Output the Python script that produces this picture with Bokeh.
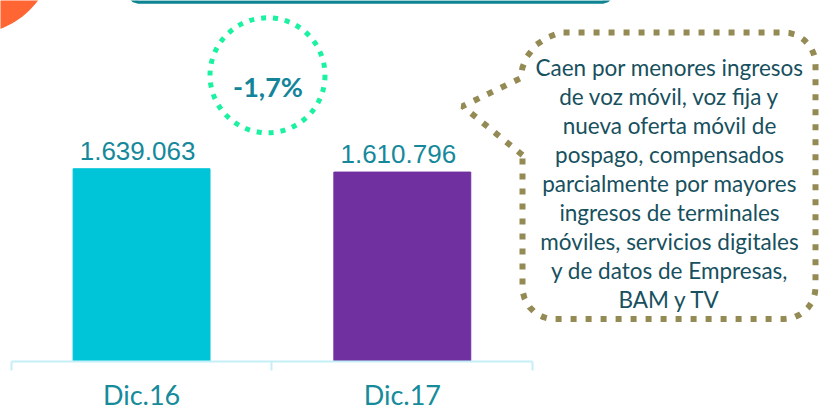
import numpy as np
from bokeh.plotting import figure
from bokeh.models import Range1d, FixedTicker, ColumnDataSource, LabelSet
from bokeh.core.properties import value
from bokeh.embed import file_html
from bokeh.resources import INLINE

# ---------------- data ----------------
categories = ["Dic.16", "Dic.17"]
revenues = [1639063, 1610796]
value_labels = ["1.639.063", "1.610.796"]
bar_colors = ["#00C4D8", "#7030A0"]
change_label = "-1,7%"
note_lines = [
    "Caen por menores ingresos",
    "de voz móvil, voz fija y",
    "nueva oferta móvil de",
    "pospago, compensados",
    "parcialmente por mayores",
    "ingresos de terminales",
    "móviles, servicios digitales",
    "y de datos de Empresas,",
    "BAM y TV",
]

# ---------------- layout ----------------
W, H = 819, 413
BOTTOM = 51
FRAME_H = H - BOTTOM
X_START, X_END = -0.041, 3.100
Y_START, Y_END = 0, 3_070_000


def dx(px):
    """picture pixel x -> data x"""
    return X_START + px * (X_END - X_START) / W


def dy(py):
    """picture pixel y -> data y"""
    return Y_END - py * (Y_END - Y_START) / FRAME_H


p = figure(
    width=W, height=H,
    x_range=Range1d(X_START, X_END), y_range=Range1d(Y_START, Y_END),
    output_backend="svg", toolbar_location=None, y_axis_location=None,
)
p.min_border = 0
p.min_border_left = 0
p.min_border_right = 0
p.min_border_top = 0
p.min_border_bottom = BOTTOM
p.grid.visible = False
p.outline_line_color = None
p.background_fill_color = "white"
p.border_fill_color = "white"

centers = [i + 0.5 for i in range(len(categories))]

# decorative orange disc (top-left) and teal header edge (top)
t = np.linspace(0, 2 * np.pi, 120)
p.patch([dx(-30 + 84 * np.cos(a)) for a in t], [dy(-50 + 84 * np.sin(a)) for a in t],
        fill_color="#FF6633", line_color=None)
hx = [127, 129, 133, 138, 602, 607, 611, 613]
hy = [-12, -4, 0, 1.5, 1.5, 0, -4, -12]
p.line([dx(v) for v in hx], [dy(v) for v in hy], line_color="#0E8493", line_width=3.5)

# bars
src = ColumnDataSource(dict(x=centers, top=revenues, color=bar_colors,
                            label=value_labels, cat=categories))
p.vbar(x="x", top="top", bottom=0, width=0.525, color="color", source=src)

# value labels
p.add_layout(LabelSet(x="x", y="top", text="label", source=src, x_offset=-4, y_offset=9,
                      text_align="center", text_baseline="alphabetic",
                      text_font=value("Liberation Sans"), text_font_size="26px",
                      text_color="#15899B"))

# x axis
ax = p.xaxis[0]
ax.ticker = FixedTicker(ticks=centers, minor_ticks=list(range(len(categories) + 1)))
ax.major_label_overrides = {c: n for c, n in zip(centers, categories)}
ax.bounds = (0, len(categories))
ax.axis_line_color = "#C4EFF7"
ax.axis_line_width = 2
ax.major_tick_out = 0
ax.major_tick_in = 0
ax.major_tick_line_color = None
ax.minor_tick_out = 9
ax.minor_tick_in = 0
ax.minor_tick_line_color = "#C4EFF7"
ax.minor_tick_line_width = 2
ax.major_label_text_font = "Lato"
ax.major_label_text_font_size = "27px"
ax.major_label_text_line_height = 1.0
ax.major_label_text_color = "#168B9B"
ax.major_label_standoff = 7

# dotted change circle
p.scatter(x=[dx(267)], y=[dy(75)], size=115, marker="circle", fill_color=None,
          line_color="#19F2A0", line_width=5, line_dash="5 7")
p.text(x=[dx(267.5)], y=[dy(86)], text=[change_label], text_align="center",
       text_baseline="alphabetic", text_font=value("Lato"), text_font_style="bold",
       text_font_size="27px", text_color="#13849A")

# callout bubble
L, R, T, B, r = 522, 815, 32, 319.5, 32


def arc(cx, cy, a0, a1, n=10):
    a = np.radians(np.linspace(a0, a1, n))
    return list(zip(cx + r * np.cos(a), cy + r * np.sin(a)))


pts = [(522, 155), (462, 106), (520, 78), (522, 67), (526, 57), (535, 45), (547, 37), (560, 32)]
pts += arc(R - r, T + r, -90, 0)
pts += arc(R - r, B - r, 0, 90)
pts += arc(L + r, B - r, 90, 180)
pts += [(522, 155)]
p.line([dx(a) for a, _ in pts], [dy(b) for _, b in pts], line_color="#948A54",
       line_width=6, line_dash="6 9")

base = [66.7 + i * 29.15 for i in range(len(note_lines))]
p.text(x=[dx(669)] * len(note_lines), y=[dy(b) for b in base], text=note_lines,
       text_align="center", text_baseline="alphabetic", text_font=value("Lato"),
       text_font_size="22.5px", text_color="#17505E")

open("out.html", "w").write(file_html(p, INLINE))
